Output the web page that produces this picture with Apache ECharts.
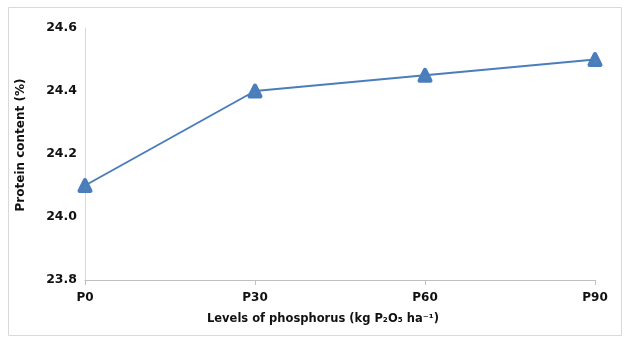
<!DOCTYPE html>
<html><head><meta charset="utf-8">
<script src="https://cdn.jsdelivr.net/npm/echarts@6/dist/echarts.min.js"></script>
<style>html,body{margin:0;padding:0;background:#fff}#c{width:624px;height:342px}</style>
</head><body><div id="c"></div>
<script>
const categories = ["P0", "P30", "P60", "P90"];
const proteinValues = [24.1, 24.4, 24.45, 24.5];
const yTicks = { min: 23.8, max: 24.6, interval: 0.2 };
const xTitle = "Levels of phosphorus (kg P\u2082O\u2085 ha\u207B\u00B9)";
const yTitle = "Protein content (%)";

const font = "DejaVu Sans, Verdana, sans-serif";
const chart = echarts.init(document.getElementById('c'), null, {renderer: 'canvas'});
chart.setOption({
  animation: false,
  backgroundColor: '#fff',
  graphic: [{
    type: 'rect', left: 6, top: 5, silent: true,
    shape: { width: 613, height: 328 },
    style: { fill: 'none', stroke: '#d9d9d9', lineWidth: 1 }
  }, {
    type: 'text', x: 323, y: 319, silent: true,
    style: { text: xTitle, fill: '#111', font: 'bold 11.5px ' + font, align: 'center', verticalAlign: 'middle' }
  }, {
    type: 'text', x: 21, y: 145, rotation: Math.PI / 2, silent: true,
    style: { text: yTitle, fill: '#111', font: 'bold 12px ' + font, align: 'center', verticalAlign: 'middle' }
  }],
  grid: { left: 85, right: 29, top: 28, bottom: 62 },
  xAxis: {
    type: 'category', data: categories, boundaryGap: false,
    axisLine: { lineStyle: { color: '#bfbfbf', width: 1 } },
    axisTick: { show: true, length: 5, lineStyle: { color: '#bfbfbf' } },
    axisLabel: { color: '#111', fontFamily: font, fontWeight: 'bold', fontSize: 12, margin: 12 },
    splitLine: { show: false }
  },
  yAxis: {
    type: 'value', min: yTicks.min, max: yTicks.max, interval: yTicks.interval,
    axisLine: { show: true, lineStyle: { color: '#d9d9d9', width: 1 } },
    axisTick: { show: false },
    axisLabel: { color: '#111', fontFamily: font, fontWeight: 'bold', fontSize: 12.5, margin: 8,
      formatter: v => v.toFixed(1) },
    splitLine: { show: false }
  },
  series: [{
    type: 'line', data: proteinValues,
    symbol: 'triangle', symbolSize: 11,
    lineStyle: { color: '#4a7ebb', width: 2 },
    itemStyle: { color: '#4f81bd', borderColor: '#4a7ebb', borderWidth: 4, borderJoin: 'round' }
  }]
});
</script></body></html>
